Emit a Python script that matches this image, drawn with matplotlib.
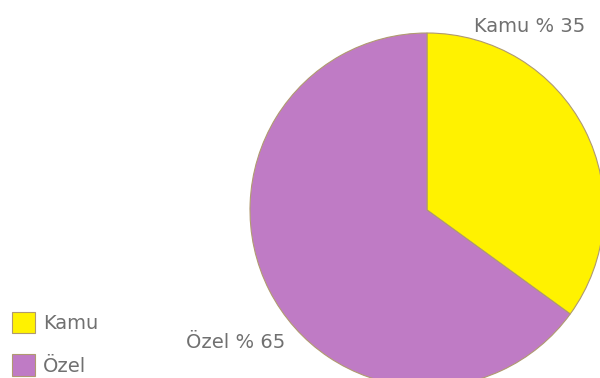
import matplotlib.pyplot as plt

labels = ['Kamu', 'Özel']
shares = [35, 65]
colors = ['#fff200', '#bf7bc5']
slice_texts = ['Kamu % 35', 'Özel % 65']

plt.rcParams['font.family'] = ['DejaVu Sans Condensed', 'Liberation Sans Narrow', 'DejaVu Sans']

fig = plt.figure(figsize=(6, 3.78), dpi=100)
ax = fig.add_axes([0, 0, 1, 1])

# y axis runs downward, so angles are mirrored: start at -90 and go counterclockwise
wedges, _ = ax.pie(shares, colors=colors, startangle=-90, counterclock=True,
                   center=(427, 210), radius=177,
                   wedgeprops=dict(edgecolor='#b09a70', linewidth=0.8))
ax.set_xlim(0, 600)
ax.set_ylim(378, 0)
ax.set_aspect('auto')
ax.axis('off')

ax.text(530, 27, slice_texts[0], ha='center', va='center', fontsize=14, color='#707070')
ax.text(236, 343, slice_texts[1], ha='center', va='center', fontsize=14, color='#707070')

ax.legend(wedges, labels, loc='upper left', bbox_to_anchor=(0.02, 0.175),
          frameon=False, fontsize=14, labelcolor='#707070', borderpad=0, borderaxespad=0,
          handlelength=1.2, handleheight=1.3, handletextpad=0.4, labelspacing=1.1)

fig.savefig('out.png', dpi=100)
